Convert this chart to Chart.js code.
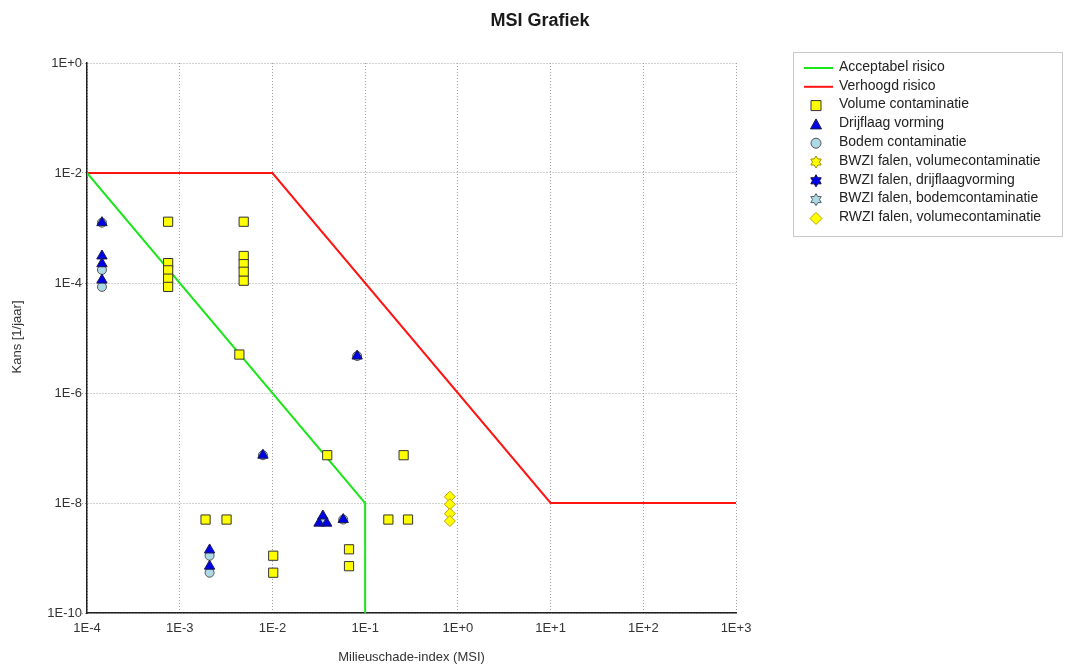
<!DOCTYPE html>
<html>
<head>
<meta charset="utf-8">
<script src="https://cdn.jsdelivr.net/npm/chart.js@4.4.1/dist/chart.umd.min.js"></script>
<style>
  html, body { margin: 0; padding: 0; background: #ffffff; }
  #wrap { width: 1067px; height: 665px; }
</style>
</head>
<body>
<div id="wrap"><canvas id="c" width="1067" height="665"></canvas></div>
<script>
// ---- Data ----
const chartTitle = 'MSI Grafiek';
const xAxisTitle = 'Milieuschade-index (MSI)';
const yAxisTitle = 'Kans [1/jaar]';

const xTickValues = [1e-4, 1e-3, 1e-2, 1e-1, 1e0, 1e1, 1e2, 1e3];
const xTickLabels = ['1E-4', '1E-3', '1E-2', '1E-1', '1E+0', '1E+1', '1E+2', '1E+3'];
const yTickValues = [1e0, 1e-2, 1e-4, 1e-6, 1e-8, 1e-10];
const yTickLabels = ['1E+0', '1E-2', '1E-4', '1E-6', '1E-8', '1E-10'];

const seriesNames = [
  'Acceptabel risico',
  'Verhoogd risico',
  'Volume contaminatie',
  'Drijflaag vorming',
  'Bodem contaminatie',
  'BWZI falen, volumecontaminatie',
  'BWZI falen, drijflaagvorming',
  'BWZI falen, bodemcontaminatie',
  'RWZI falen, volumecontaminatie'
];

const acceptX = [1e-4, 1e-1, 1e-1];
const acceptY = [1e-2, 1e-8, 1e-10];

const raisedX = [1e-4, 1e-2, 1e1, 1e3];
const raisedY = [1e-2, 1e-2, 1e-8, 1e-8];

const volumeX = [7.5e-4, 7.5e-4, 7.5e-4, 7.5e-4, 7.5e-4, 4.9e-3, 4.9e-3, 4.9e-3, 4.9e-3, 4.9e-3, 4.4e-3, 0.039, 0.26, 1.9e-3, 3.2e-3, 1.02e-2, 1.02e-2, 0.067, 0.067, 0.178, 0.29];
const volumeY = [1.3e-3, 2.3e-4, 1.7e-4, 1.2e-4, 8.5e-5, 1.3e-3, 3.1e-4, 2.2e-4, 1.6e-4, 1.1e-4, 5e-6, 7.4e-8, 7.4e-8, 5e-9, 5e-9, 1.1e-9, 5.4e-10, 1.44e-9, 7.1e-10, 5e-9, 5e-9];

const drijfX = [1.45e-4, 1.45e-4, 1.45e-4, 1.45e-4, 7.9e-3, 0.082, 0.035, 0.0318, 0.0385, 0.058, 2.1e-3, 2.1e-3];
const drijfY = [1.25e-3, 3.1e-4, 2.24e-4, 1.13e-4, 7.4e-8, 4.7e-6, 5.8e-9, 4.3e-9, 4.3e-9, 5e-9, 1.4e-9, 7.1e-10];

const bodemX = [1.45e-4, 1.45e-4, 1.45e-4, 7.9e-3, 0.082, 0.035, 0.058, 2.1e-3, 2.1e-3];
const bodemY = [1.25e-3, 1.73e-4, 8.5e-5, 7.4e-8, 4.7e-6, 5e-9, 5e-9, 1.1e-9, 5.4e-10];

const bwziVolX = [], bwziVolY = [];
const bwziDrijfX = [], bwziDrijfY = [];
const bwziBodemX = [], bwziBodemY = [];

const rwziX = [0.82, 0.82, 0.82, 0.82];
const rwziY = [1.3e-8, 9.5e-9, 6.4e-9, 4.7e-9];

// ---- Helpers ----
const zip = (xs, ys) => xs.map((x, i) => ({ x: x, y: ys[i] }));
const FONT = '"Liberation Sans", Arial, sans-serif';

const styles = [
  { kind: 'line', color: '#19e619' },
  { kind: 'line', color: '#ff1414' },
  { kind: 'rect', fill: '#ffff00', stroke: '#333333' },
  { kind: 'triangle', fill: '#0000e6', stroke: '#1a1a50' },
  { kind: 'circle', fill: '#add8e6', stroke: '#555555' },
  { kind: 'star', fill: '#ffff00', stroke: '#a09000' },
  { kind: 'star', fill: '#0000e6', stroke: '#101050' },
  { kind: 'star', fill: '#b0d8e0', stroke: '#506070' },
  { kind: 'diamond', fill: '#ffff00', stroke: '#c0a000' }
];

function drawMarker(ctx, kind, x, y, fill, stroke) {
  ctx.save();
  ctx.fillStyle = fill; ctx.strokeStyle = stroke; ctx.lineWidth = 1;
  ctx.beginPath();
  if (kind === 'rect') {
    ctx.rect(x - 5, y - 5, 10, 10);
  } else if (kind === 'triangle') {
    ctx.moveTo(x, y - 5.5); ctx.lineTo(x + 5.5, y + 4.5); ctx.lineTo(x - 5.5, y + 4.5); ctx.closePath();
  } else if (kind === 'circle') {
    ctx.arc(x, y, 5, 0, Math.PI * 2);
  } else if (kind === 'diamond') {
    ctx.moveTo(x, y - 6); ctx.lineTo(x + 6, y); ctx.lineTo(x, y + 6); ctx.lineTo(x - 6, y); ctx.closePath();
  } else if (kind === 'star') {
    const R = 6, r = 3.5;
    for (let i = 0; i < 12; i++) {
      const a = -Math.PI / 2 + i * Math.PI / 6;
      const rr = (i % 2 === 0) ? R : r;
      const px = x + rr * Math.cos(a), py = y + rr * Math.sin(a);
      if (i === 0) ctx.moveTo(px, py); else ctx.lineTo(px, py);
    }
    ctx.closePath();
  }
  ctx.fill(); ctx.stroke();
  ctx.restore();
}

const decorPlugin = {
  id: 'decor',
  afterDraw(chart) {
    const ctx = chart.ctx;
    ctx.save();
    // title
    ctx.fillStyle = '#1a1a1a';
    ctx.font = 'bold 18px ' + FONT;
    ctx.textAlign = 'center'; ctx.textBaseline = 'middle';
    ctx.fillText(chartTitle, 540, 21);
    // axis titles
    ctx.font = '13px ' + FONT;
    ctx.fillStyle = '#333333';
    ctx.fillText(xAxisTitle, (chart.chartArea.left + chart.chartArea.right) / 2, 657);
    ctx.save();
    ctx.translate(17, 337);
    ctx.rotate(-Math.PI / 2);
    ctx.fillText(yAxisTitle, 0, 0);
    ctx.restore();
    // legend
    ctx.fillStyle = '#ffffff';
    ctx.strokeStyle = '#c8c8c8'; ctx.lineWidth = 1;
    ctx.fillRect(793.5, 52.5, 269, 184);
    ctx.strokeRect(793.5, 52.5, 269, 184);
    ctx.font = '14px ' + FONT;
    ctx.textAlign = 'left'; ctx.textBaseline = 'middle';
    seriesNames.forEach((name, i) => {
      const y = 67 + i * 18.8;
      const s = styles[i];
      if (s.kind === 'line') {
        ctx.strokeStyle = s.color; ctx.lineWidth = 2;
        ctx.beginPath(); ctx.moveTo(804, y + 1); ctx.lineTo(833, y + 1); ctx.stroke();
      } else {
        drawMarker(ctx, s.kind, 816, y + 1, s.fill, s.stroke);
      }
      ctx.fillStyle = '#222222';
      ctx.fillText(name, 839, y);
    });
    ctx.restore();
  }
};

const pointDs = (label, data, style, pstyle, radius, order) => ({
  label: label, data: data, showLine: false, order: order,
  pointStyle: pstyle, pointRadius: radius, pointHoverRadius: radius,
  backgroundColor: style.fill, borderColor: style.stroke, borderWidth: 1
});

new Chart(document.getElementById('c'), {
  type: 'scatter',
  data: {
    datasets: [
      { label: seriesNames[0], data: zip(acceptX, acceptY), showLine: true, borderColor: styles[0].color, borderWidth: 2, pointRadius: 0, fill: false, order: 20 },
      { label: seriesNames[1], data: zip(raisedX, raisedY), showLine: true, borderColor: styles[1].color, borderWidth: 2, pointRadius: 0, fill: false, order: 21 },
      pointDs(seriesNames[2], zip(volumeX, volumeY), styles[2], 'rect', 6.5, 5),
      pointDs(seriesNames[3], zip(drijfX, drijfY), styles[3], 'triangle', 6, 1),
      pointDs(seriesNames[4], zip(bodemX, bodemY), styles[4], 'circle', 4.5, 2),
      pointDs(seriesNames[5], zip(bwziVolX, bwziVolY), styles[5], 'star', 5, 6),
      pointDs(seriesNames[6], zip(bwziDrijfX, bwziDrijfY), styles[6], 'star', 5, 7),
      pointDs(seriesNames[7], zip(bwziBodemX, bwziBodemY), styles[7], 'star', 5, 8),
      pointDs(seriesNames[8], zip(rwziX, rwziY), styles[8], 'rectRot', 5.5, 4)
    ]
  },
  options: {
    responsive: false,
    animation: false,
    events: [],
    layout: { padding: { top: 63, right: 331, left: 0, bottom: 0 } },
    plugins: { legend: { display: false }, title: { display: false }, tooltip: { enabled: false } },
    scales: {
      x: {
        type: 'logarithmic', min: 1e-4, max: 1e3,
        afterBuildTicks: (s) => { s.ticks = xTickValues.map(v => ({ value: v })); },
        afterFit: (s) => { s.height = 52; },
        ticks: {
          autoSkip: false, maxRotation: 0, padding: 8,
          color: '#333333', font: { family: FONT, size: 13 },
          callback: (v, i) => xTickLabels[i]
        },
        grid: { color: '#a0a0a0', lineWidth: 1, drawTicks: false },
        border: { display: true, color: '#222222', width: 1.5, dash: [1, 2] }
      },
      y: {
        type: 'logarithmic', min: 1e-10, max: 1e0,
        afterBuildTicks: (s) => { s.ticks = yTickValues.map(v => ({ value: v })); },
        afterFit: (s) => { s.width = 87; },
        ticks: {
          autoSkip: false, padding: 0,
          color: '#333333', font: { family: FONT, size: 13 },
          callback: (v, i) => yTickLabels[i]
        },
        grid: { color: '#a0a0a0', lineWidth: 1, drawTicks: true, tickLength: 5, tickColor: '#a0a0a0', tickBorderDash: [1, 2] },
        border: { display: true, color: '#222222', width: 1.5, dash: [1, 2] }
      }
    }
  },
  plugins: [decorPlugin]
});
</script>
</body>
</html>
